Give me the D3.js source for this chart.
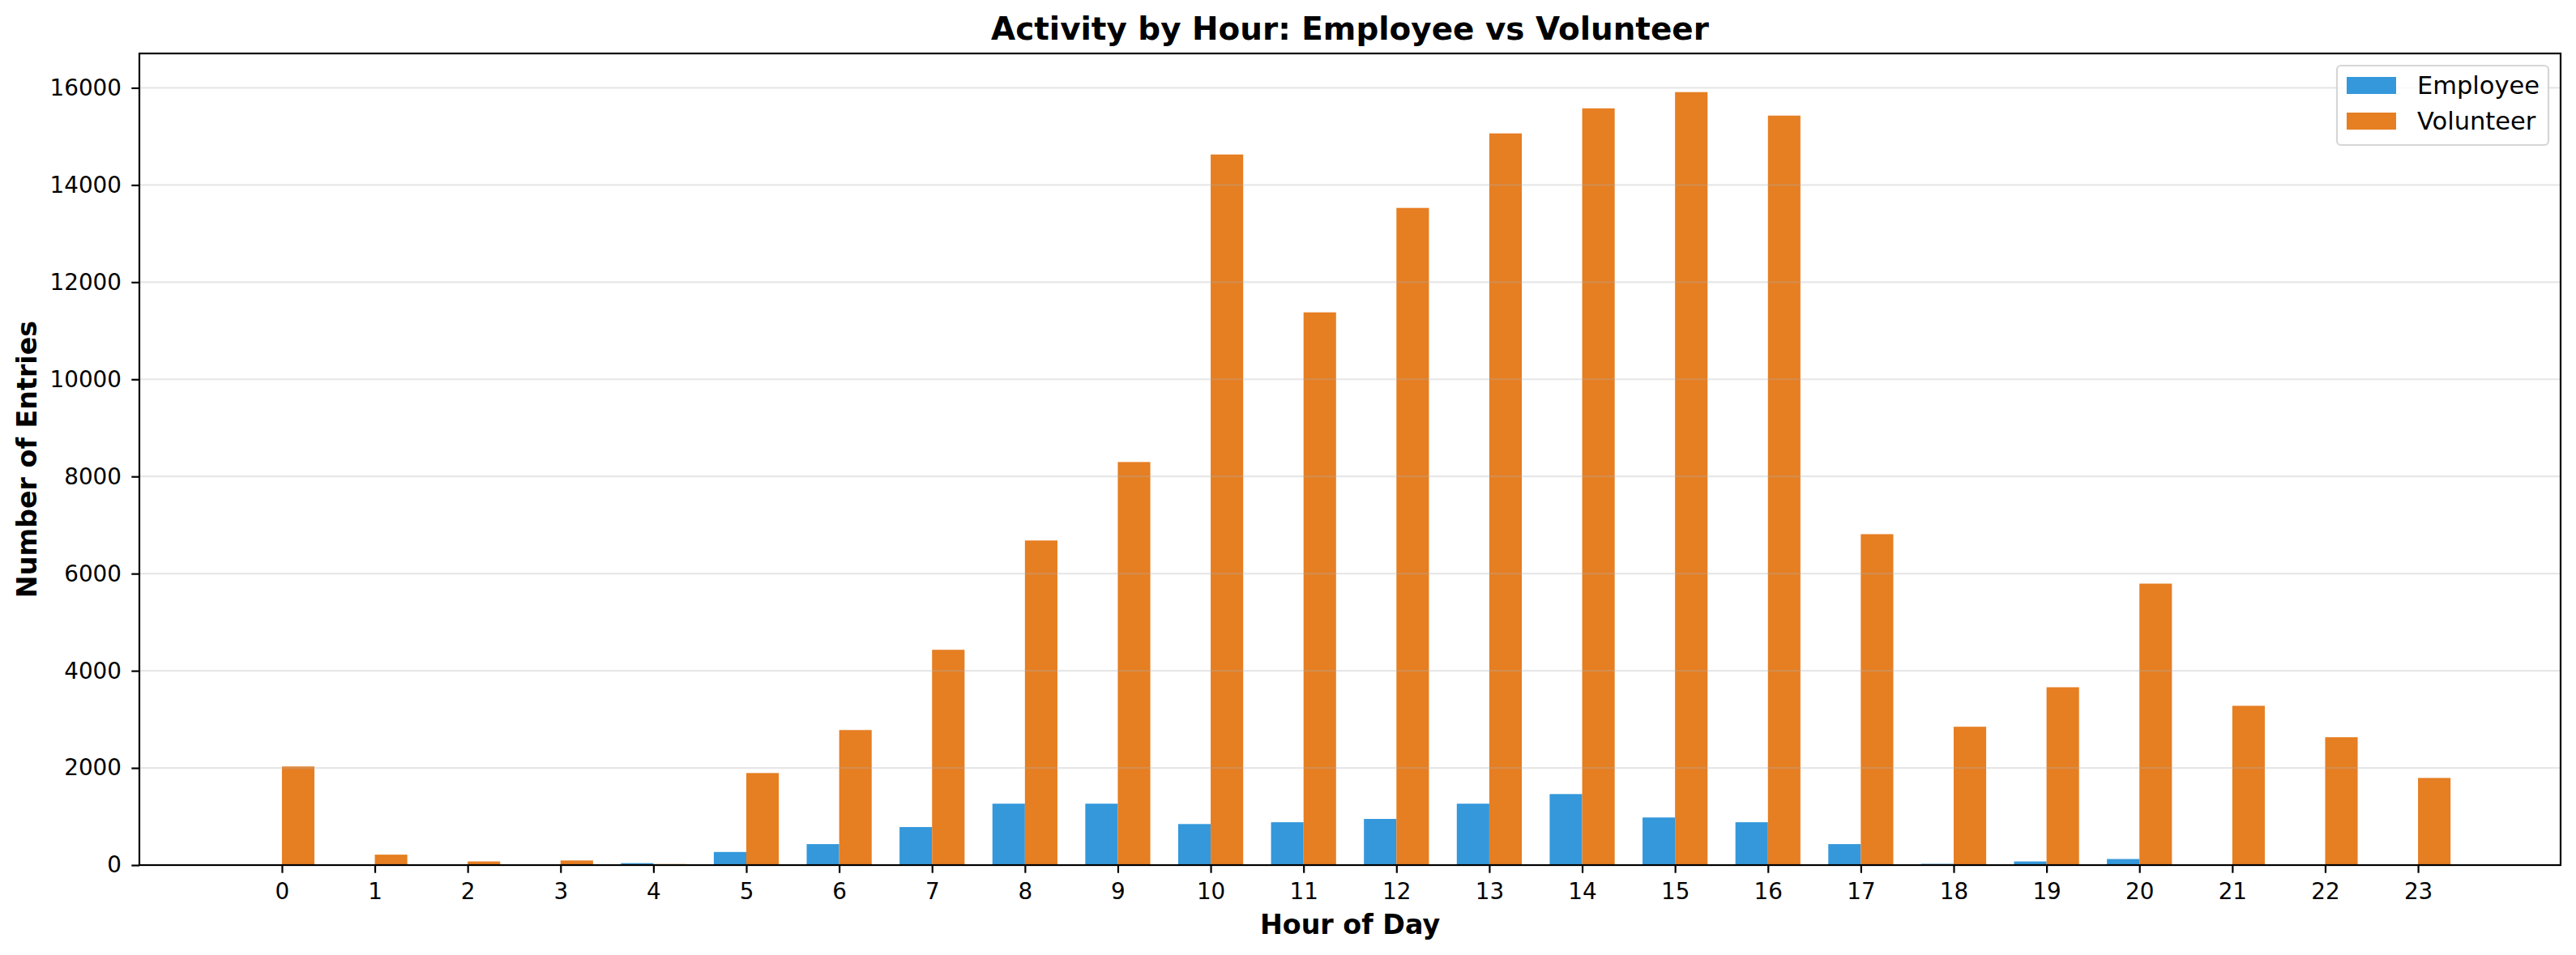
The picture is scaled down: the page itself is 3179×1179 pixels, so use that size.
<!DOCTYPE html>
<html>
<head>
<meta charset="utf-8">
<script src="https://cdn.jsdelivr.net/npm/d3@7"></script>
<style>
  html, body { margin: 0; padding: 0; background: #fff; }
  svg { display: block; font-family: "DejaVu Sans", sans-serif; }
</style>
</head>
<body>
<svg id="chart" width="3179" height="1179"></svg>
<script>
const hours = [0,1,2,3,4,5,6,7,8,9,10,11,12,13,14,15,16,17,18,19,20,21,22,23];
const employee = [0,0,0,0,40,270,432,783,1264,1264,845,882,950,1264,1462,980,882,432,25,75,125,15,0,0];
const volunteer = [2030,215,75,95,20,1895,2780,4432,6682,8297,14628,11378,13528,15062,15578,15912,15428,6812,2848,3661,5794,3279,2632,1794];
const yTicks = [0,2000,4000,6000,8000,10000,12000,14000,16000];
const seriesNames = ["Employee", "Volunteer"];
const seriesColors = ["#3498db", "#e67e22"];
const titleText = "Activity by Hour: Employee vs Volunteer";
const xLabelText = "Hour of Day";
const yLabelText = "Number of Entries";

const W = 3179, H = 1179;
const plot = { left: 172, right: 3160, top: 66, bottom: 1068 };
const barW = 0.35;

const xMinData = d3.min(hours) - barW;
const xMaxData = d3.max(hours) + barW;
const xPad = 0.05 * (xMaxData - xMinData);
const x = d3.scaleLinear().domain([xMinData - xPad, xMaxData + xPad]).range([plot.left, plot.right]);
const yMax = d3.max(volunteer.concat(employee)) * 1.05;
const y = d3.scaleLinear().domain([0, yMax]).range([plot.bottom, plot.top]);

const svg = d3.select("#chart");
svg.append("rect").attr("width", W).attr("height", H).attr("fill", "#fff");

// bars
const data = hours.map((h, i) => ({ h, e: employee[i], v: volunteer[i] }));
const gBars = svg.append("g");
gBars.selectAll("rect.emp").data(data).join("rect")
  .attr("class", "emp")
  .attr("x", d => x(d.h - barW))
  .attr("width", d => x(d.h) - x(d.h - barW))
  .attr("y", d => y(d.e))
  .attr("height", d => y(0) - y(d.e))
  .attr("fill", seriesColors[0]);
gBars.selectAll("rect.vol").data(data).join("rect")
  .attr("class", "vol")
  .attr("x", d => x(d.h))
  .attr("width", d => x(d.h + barW) - x(d.h))
  .attr("y", d => y(d.v))
  .attr("height", d => y(0) - y(d.v))
  .attr("fill", seriesColors[1]);

// grid (drawn above bars, semi-transparent)
svg.append("g").selectAll("line").data(yTicks).join("line")
  .attr("x1", plot.left).attr("x2", plot.right)
  .attr("y1", d => y(d)).attr("y2", d => y(d))
  .attr("stroke", "#b0b0b0").attr("stroke-opacity", 0.3).attr("stroke-width", 2.2);

// axes
const xAxis = d3.axisBottom(x).tickValues(hours).tickFormat(d3.format("d")).tickSize(9.7).tickPadding(12.6);
const gx = svg.append("g").attr("transform", `translate(0,${plot.bottom})`).call(xAxis);
const yAxis = d3.axisLeft(y).tickValues(yTicks).tickFormat(d3.format("d")).tickSize(9.7).tickPadding(12.3);
const gy = svg.append("g").attr("transform", `translate(${plot.left},0)`).call(yAxis);
[gx, gy].forEach(g => {
  g.select(".domain").remove();
  g.selectAll(".tick line").attr("stroke", "#000").attr("stroke-width", 2.2);
  g.selectAll(".tick text").attr("fill", "#000").style("font-size", "27.8px").style("font-family", "DejaVu Sans");
});

// frame
svg.append("rect")
  .attr("x", plot.left).attr("y", plot.top)
  .attr("width", plot.right - plot.left).attr("height", plot.bottom - plot.top)
  .attr("fill", "none").attr("stroke", "#000").attr("stroke-width", 2.2);

// title & labels
svg.append("text").attr("x", (plot.left + plot.right) / 2).attr("y", 49)
  .attr("text-anchor", "middle").style("font-size", "38.9px").style("font-weight", "bold")
  .text(titleText);
svg.append("text").attr("x", (plot.left + plot.right) / 2).attr("y", 1153)
  .attr("text-anchor", "middle").style("font-size", "33.3px").style("font-weight", "bold")
  .text(xLabelText);
svg.append("text")
  .attr("transform", `translate(45,${(plot.top + plot.bottom) / 2}) rotate(-90)`)
  .attr("text-anchor", "middle").style("font-size", "33.3px").style("font-weight", "bold")
  .text(yLabelText);

// legend
const lg = svg.append("g");
lg.append("rect").attr("x", 2884).attr("y", 81).attr("width", 261).attr("height", 98)
  .attr("rx", 5).attr("fill", "#fff").attr("fill-opacity", 0.8)
  .attr("stroke", "#d6d6d6").attr("stroke-width", 2.2);
seriesNames.forEach((name, i) => {
  const yy = 95 + i * 44;
  lg.append("rect").attr("x", 2896).attr("y", yy).attr("width", 61).attr("height", 21).attr("fill", seriesColors[i]);
  lg.append("text").attr("x", 2983).attr("y", yy + 21).style("font-size", "30.5px").attr("fill", "#000").text(name);
});
</script>
</body>
</html>
